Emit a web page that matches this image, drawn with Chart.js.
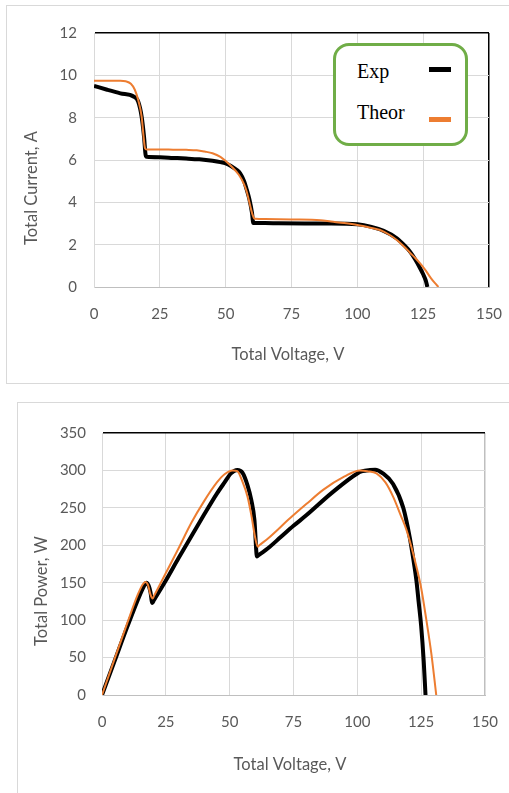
<!DOCTYPE html>
<html>
<head>
<meta charset="utf-8">
<script src="https://cdn.jsdelivr.net/npm/chart.js@4.4.1/dist/chart.umd.min.js"></script>
<style>
  html, body { margin: 0; padding: 0; background: #fff; }
  body { position: relative; width: 509px; height: 793px; overflow: hidden; }
  .frame { position: absolute; border: 1px solid #d9d9d9; }
  canvas { position: absolute; left: 0; }
  #legend { position: absolute; left: 333px; top: 43px; width: 129px; height: 97px;
    border: 3px solid #70ad47; border-radius: 16px; background: #fff;
    font-family: "Liberation Serif", "Times New Roman", serif; font-size: 20px; color: #000; }
  #legend span { position: absolute; left: 21px; line-height: 20px; white-space: nowrap; }
  #legend i { position: absolute; left: 93px; width: 22px; height: 5px; }
</style>
</head>
<body>
<div class="frame" style="left:6px;top:5px;width:510px;height:377px"></div>
<div class="frame" style="left:17px;top:402px;width:510px;height:400px"></div>
<canvas id="ch-iv" width="509" height="390" style="top:0"></canvas>
<canvas id="ch-pv" width="509" height="403" style="top:390px"></canvas>
<div id="legend">
  <span id="lg-exp" style="top:15px"></span><i style="top:21px;background:#000"></i>
  <span id="lg-theor" style="top:56px"></span><i style="top:71px;background:#ed7d31"></i>
</div>
<script>
// Kurva I-V dan P-V: hasil eksperimen vs teori
const seriesNames = ["Exp", "Theor"];
const voltTicks = [0, 25, 50, 75, 100, 125, 150];
const currentTicks = [0, 2, 4, 6, 8, 10, 12];
const powerTicks = [0, 50, 100, 150, 200, 250, 300, 350];

// I-V
const ivVoltExp = [0, 5, 10, 15, 16.8, 18.1, 19, 19.6, 20, 25, 30, 35, 40, 45, 48, 50, 52, 54, 55.5, 57, 58, 59, 60, 60.5, 65, 70, 80, 90, 100, 105, 110, 115, 118, 120, 122, 124, 125, 126, 126.6];
const ivCurrExp = [9.5, 9.32, 9.15, 9.0, 8.75, 8.04, 7.1, 6.24, 6.15, 6.13, 6.1, 6.07, 6.03, 5.96, 5.9, 5.84, 5.72, 5.55, 5.37, 5.0, 4.6, 4.15, 3.5, 3.02, 3.02, 3.01, 3.0, 3.0, 2.96, 2.85, 2.65, 2.3, 1.95, 1.67, 1.3, 0.85, 0.6, 0.3, 0];
const ivVoltTheor = [0, 5, 10, 12, 14, 15.5, 16.8, 18.1, 18.7, 19.4, 20, 25, 30, 35, 39, 42, 45, 48, 50, 52.8, 55, 57, 58, 59, 60, 60.8, 61.5, 65, 75, 86, 90, 95, 100, 105, 108.6, 112, 115, 118, 120, 122, 124, 126, 128, 129.5, 130.8];
const ivCurrTheor = [9.75, 9.75, 9.75, 9.72, 9.6, 9.32, 8.83, 8.04, 7.26, 6.55, 6.5, 6.5, 6.49, 6.48, 6.46, 6.4, 6.32, 6.15, 5.95, 5.62, 5.3, 4.85, 4.5, 4.0, 3.5, 3.25, 3.22, 3.21, 3.19, 3.15, 3.09, 3.02, 2.93, 2.8, 2.69, 2.48, 2.22, 1.88, 1.62, 1.37, 1.09, 0.77, 0.41, 0.18, 0];

// P-V
const pvVoltExp = [0, 5, 10, 15, 16.5, 17.3, 18.3, 19, 19.7, 20.3, 25, 30, 35, 40, 45, 48, 50.5, 53, 55, 57, 58.5, 59.7, 60.7, 61.3, 65, 70, 75, 80, 90, 100, 102, 105, 107, 110, 114, 118, 120.5, 122, 123.1, 124, 125, 126, 126.7];
const pvPowerExp = [0, 46, 92, 135, 146, 150, 146, 137, 123, 126.5, 153, 183, 212, 241, 269, 284, 296, 300.5, 297, 280, 260, 234, 185, 186.7, 196, 211, 226, 240, 270, 296, 299, 300.5, 301, 296, 282, 250, 211, 180, 154, 125, 92, 45, 0];
const pvVoltTheor = [0, 5, 10, 14, 16, 17, 18, 19, 19.8, 20.4, 25, 30, 35, 40, 45, 48, 51.2, 53, 55, 57, 58.5, 60, 61, 61.6, 65, 73.6, 80, 86.6, 95, 101, 104, 107.5, 111, 114, 117, 119.3, 121, 123.1, 125, 127, 129, 130.9];
const pvPowerTheor = [0, 49, 97, 134, 148, 151, 147, 134, 129, 132.6, 163, 196, 230, 259, 284, 295, 300, 299, 285, 265, 240, 210, 198, 199.9, 209, 236, 255, 274, 292, 300, 299, 296, 284, 265, 240, 220, 200, 172, 143, 101, 55, 0];

const TXT = "#595959", GRID = "#d9d9d9", AXIS = "#bfbfbf";
const tickFont = { family: "Lato, 'Open Sans', sans-serif", size: 15 };

const axisTitles = {
  id: "axisTitles",
  afterDraw(chart, args, o) {
    const c = chart.ctx;
    c.save();
    c.fillStyle = TXT;
    c.font = "16.5px Lato, 'Open Sans', sans-serif";
    c.textAlign = "center";
    c.textBaseline = "middle";
    c.fillText(o.xText, o.xAt[0], o.xAt[1]);
    c.translate(o.yAt[0], o.yAt[1]);
    c.rotate(-Math.PI / 2);
    c.fillText(o.yText, 0, 0);
    c.restore();
  }
};

function pts(xs, ys) { return xs.map((x, i) => ({ x: x, y: ys[i] })); }

function makeChart(id, cfg) {
  return new Chart(document.getElementById(id), {
    type: "scatter",
    data: {
      datasets: [
        { label: seriesNames[1], data: pts(cfg.xT, cfg.yT), borderColor: "#ed7d31", borderWidth: 2, order: 0 },
        { label: seriesNames[0], data: pts(cfg.xE, cfg.yE), borderColor: "#000", borderWidth: 4, order: 1 }
      ].map((d) => Object.assign(d, { showLine: true, pointRadius: 0, cubicInterpolationMode: "monotone", fill: false }))
    },
    plugins: [axisTitles],
    options: {
      responsive: false, animation: false, devicePixelRatio: 1,
      layout: { padding: { left: 0, top: cfg.padTop, right: cfg.padRight, bottom: 0 } },
      plugins: { legend: { display: false }, tooltip: { enabled: false }, axisTitles: cfg.titles },
      scales: {
        x: {
          type: "linear", min: 0, max: 150,
          afterBuildTicks: (s) => { s.ticks = voltTicks.map((v) => ({ value: v })); },
          afterFit: (s) => { s.height = cfg.xH; },
          border: { color: AXIS, width: 1 },
          grid: {
            tickLength: cfg.xPad, tickColor: "rgba(0,0,0,0)",
            color: (c) => c.tick && c.tick.value === 150 ? cfg.rightColor : GRID,
            lineWidth: (c) => c.tick && c.tick.value === 150 ? 1.5 : 1
          },
          ticks: { color: TXT, font: tickFont, padding: 0, maxRotation: 0 }
        },
        y: {
          type: "linear", min: 0, max: cfg.yMax,
          afterBuildTicks: (s) => { s.ticks = cfg.yTicks.map((v) => ({ value: v })); },
          afterFit: (s) => { s.width = cfg.yW; },
          border: { color: GRID, width: 1 },
          grid: {
            tickLength: cfg.yPad, tickColor: "rgba(0,0,0,0)",
            color: (c) => c.tick && c.tick.value === cfg.yMax ? "#000" : GRID,
            lineWidth: (c) => c.tick && c.tick.value === cfg.yMax ? 1.5 : 1
          },
          ticks: { color: TXT, font: tickFont, padding: 0 }
        }
      }
    }
  });
}

makeChart("ch-iv", {
  xE: ivVoltExp, yE: ivCurrExp, xT: ivVoltTheor, yT: ivCurrTheor,
  yMax: 12, yTicks: currentTicks, padTop: 33, padRight: 20, xH: 103, yW: 94, xPad: 18, yPad: 17,
  rightColor: "#000",
  titles: { xText: "Total Voltage, V", xAt: [288, 355], yText: "Total Current, A", yAt: [32, 188] }
});

makeChart("ch-pv", {
  xE: pvVoltExp, yE: pvPowerExp, xT: pvVoltTheor, yT: pvPowerTheor,
  yMax: 350, yTicks: powerTicks, padTop: 43, padRight: 24, xH: 98, yW: 102, xPad: 18, yPad: 16,
  rightColor: AXIS,
  titles: { xText: "Total Voltage, V", xAt: [290, 375], yText: "Total Power, W", yAt: [42, 201] }
});

document.getElementById("lg-exp").textContent = seriesNames[0];
document.getElementById("lg-theor").textContent = seriesNames[1];
</script>
</body>
</html>
